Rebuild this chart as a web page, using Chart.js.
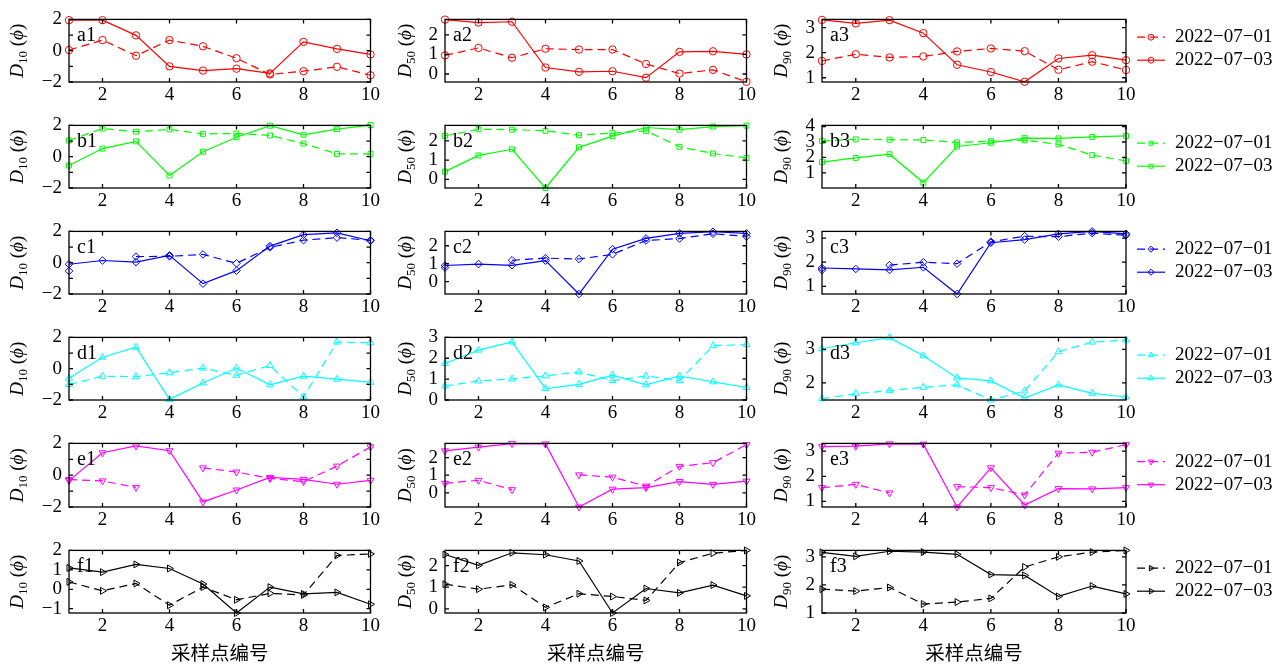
<!DOCTYPE html>
<html>
<head>
<meta charset="utf-8">
<script src="https://cdn.jsdelivr.net/npm/chart.js@4.4.1/dist/chart.umd.min.js"></script>
<style>
  html, body { margin: 0; padding: 0; background: #fff; }
  #wrap { position: relative; width: 1288px; height: 669px; overflow: hidden; }
  #wrap canvas { position: absolute; }
</style>
</head>
<body>
<div id="wrap"></div>
<script>
const sites = [1, 2, 3, 4, 5, 6, 7, 8, 9, 10];
const xTicks = [2, 4, 6, 8, 10];
const dates = ['2022−07−01', '2022−07−03'];
const sizeSubs = ['10', '50', '90'];
const xTitle = '采样点编号';

// D10 / D50 / D90 for each group, 07-01 (dashed) and 07-03 (solid)
const a1_01 = [0.04, 0.68, -0.32, 0.68, 0.28, -0.48, -1.52, -1.31, -1.03, -1.57];
const a1_03 = [1.95, 1.95, 0.98, -1.00, -1.27, -1.15, -1.45, 0.56, 0.12, -0.24];
const a2_01 = [0.95, 1.33, 0.83, 1.29, 1.25, 1.25, 0.51, 0.02, 0.21, -0.40];
const a2_03 = [2.78, 2.63, 2.67, 0.33, 0.11, 0.14, -0.19, 1.13, 1.16, 1.00];
const a3_01 = [1.67, 1.94, 1.81, 1.85, 2.05, 2.17, 2.06, 1.32, 1.64, 1.31];
const a3_03 = [3.31, 3.17, 3.30, 2.78, 1.52, 1.23, 0.84, 1.77, 1.90, 1.70];

const b1_01 = [1.04, 1.80, 1.60, 1.74, 1.46, 1.48, 1.36, 0.84, 0.18, 0.18];
const b1_03 = [-0.56, 0.52, 0.98, -1.20, 0.32, 1.24, 1.98, 1.40, 1.76, 2.02];
const b2_01 = [2.26, 2.60, 2.58, 2.52, 2.29, 2.40, 2.52, 1.69, 1.34, 1.11];
const b2_03 = [0.40, 1.24, 1.56, -0.45, 1.66, 2.24, 2.69, 2.58, 2.74, 2.79];
const b3_01 = [3.07, 3.17, 3.15, 3.13, 2.97, 3.05, 3.11, 2.85, 2.15, 1.78];
const b3_03 = [1.70, 1.97, 2.21, 0.38, 2.71, 2.95, 3.25, 3.23, 3.33, 3.39];

const c1_01 = [-0.53, null, 0.39, 0.41, 0.53, -0.04, 0.98, 1.44, 1.60, 1.44];
const c1_03 = [-0.10, 0.14, 0.04, 0.47, -1.34, -0.51, 1.06, 1.79, 1.91, 1.40];
const c2_01 = [0.78, null, 1.19, 1.31, 1.26, 1.52, 2.29, 2.40, 2.67, 2.52];
const c2_03 = [0.90, 0.98, 0.91, 1.17, -0.69, 1.81, 2.41, 2.69, 2.78, 2.69];
const c3_01 = [1.68, null, 1.88, 2.00, 1.94, 2.85, 3.08, 3.06, 3.21, 3.12];
const c3_03 = [1.76, 1.72, 1.68, 1.79, 0.68, 2.81, 2.94, 3.18, 3.28, 3.18];

const d1_01 = [-1.01, -0.48, -0.51, -0.26, 0.04, -0.42, 0.20, -1.80, 1.70, 1.66];
const d1_03 = [-0.61, 0.73, 1.37, -1.96, -0.91, 0.04, -1.03, -0.48, -0.67, -0.87];
const d2_01 = [0.67, 0.91, 1.01, 1.16, 1.34, 0.93, 1.15, 0.93, 2.60, 2.66];
const d2_03 = [1.75, 2.39, 2.78, 0.55, 0.75, 1.19, 0.73, 1.15, 0.87, 0.60];
const d3_01 = [1.53, 1.68, 1.77, 1.87, 1.94, 1.49, 1.76, 2.93, 3.22, 3.28];
const d3_03 = [3.02, 3.20, 3.35, 2.81, 2.15, 2.06, 1.55, 1.94, 1.69, 1.58];

const e1_01 = [-0.28, -0.36, -0.77, null, 0.46, 0.20, -0.20, -0.40, 0.57, 1.78];
const e1_03 = [-0.34, 1.41, 1.84, 1.54, -1.68, -0.93, -0.14, -0.26, -0.57, -0.32];
const e2_01 = [0.54, 0.71, 0.18, null, 1.02, 0.89, 0.38, 1.50, 1.71, 2.73];
const e2_03 = [2.38, 2.59, 2.79, 2.77, -0.80, 0.21, 0.30, 0.64, 0.48, 0.66];
const e3_01 = [1.55, 1.68, 1.34, null, 1.59, 1.55, 1.26, 2.92, 2.96, 3.26];
const e3_03 = [3.18, 3.20, 3.29, 3.28, 0.78, 2.34, 0.86, 1.51, 1.50, 1.55];

const f1_01 = [0.38, -0.08, 0.30, -0.82, 0.11, -0.54, -0.21, -0.29, 1.74, 1.82];
const f1_03 = [1.10, 0.88, 1.28, 1.07, 0.27, -1.22, 0.11, -0.24, -0.16, -0.77];
const f2_01 = [1.14, 0.91, 1.11, 0.07, 0.70, 0.57, 0.39, 2.14, 2.57, 2.70];
const f2_03 = [2.51, 2.01, 2.59, 2.50, 2.21, -0.19, 0.94, 0.74, 1.10, 0.60];
const f3_01 = [1.85, 1.78, 1.91, 1.32, 1.39, 1.52, 2.64, 3.00, 3.17, 3.23];
const f3_03 = [3.16, 3.02, 3.20, 3.17, 3.09, 2.37, 2.34, 1.59, 1.96, 1.68];

// y tick marks and the ones that carry a label
const ticksPM2 = [-2, -1, 0, 1, 2];
const labelsPM2 = [-2, 0, 2];
const ticks012 = [0, 1, 2];
const ticks0123 = [0, 1, 2, 3];
const ticks123 = [1, 2, 3];
const ticks1234 = [1, 2, 3, 4];
const ticks23 = [2, 3];
const ticksM12 = [-1, 0, 1, 2];

// [tag, 07-01, 07-03, yMin, yMax, tick marks, labelled ticks]
const panels = [
  [['a1', a1_01, a1_03, -2, 2, ticksPM2, labelsPM2],
   ['a2', a2_01, a2_03, -0.41, 2.79, ticks012, ticks012],
   ['a3', a3_01, a3_03, 0.83, 3.33, ticks123, ticks123]],
  [['b1', b1_01, b1_03, -2, 2, ticksPM2, labelsPM2],
   ['b2', b2_01, b2_03, -0.45, 2.80, ticks012, ticks012],
   ['b3', b3_01, b3_03, 0.03, 4.07, ticks1234, ticks1234]],
  [['c1', c1_01, c1_03, -2, 2, ticksPM2, labelsPM2],
   ['c2', c2_01, c2_03, -0.69, 2.80, ticks012, ticks012],
   ['c3', c3_01, c3_03, 0.68, 3.28, ticks123, ticks123]],
  [['d1', d1_01, d1_03, -2, 2, ticksPM2, labelsPM2],
   ['d2', d2_01, d2_03, 0, 3, ticks0123, ticks0123],
   ['d3', d3_01, d3_03, 1.49, 3.36, ticks23, ticks23]],
  [['e1', e1_01, e1_03, -2, 2, ticksPM2, labelsPM2],
   ['e2', e2_01, e2_03, -0.80, 2.80, ticks012, ticks012],
   ['e3', e3_01, e3_03, 0.78, 3.31, ticks123, ticks123]],
  [['f1', f1_01, f1_03, -1.22, 2, ticksM12, ticksM12],
   ['f2', f2_01, f2_03, -0.19, 2.70, ticks012, ticks012],
   ['f3', f3_01, f3_03, 1.0, 3.23, ticks123, ticks123]]
];

const rowStyles = [
  { color: '#ff0000', point: 'circle', rot: 0, r: 3.7 },
  { color: '#00ff00', point: 'rect', rot: 0, r: 3.5 },
  { color: '#0000ff', point: 'rectRot', rot: 0, r: 3.8 },
  { color: '#00ffff', point: 'triangle', rot: 0, r: 4 },
  { color: '#ff00ff', point: 'triangle', rot: 180, r: 4 },
  { color: '#000000', point: 'triangle', rot: 90, r: 4 }
];

const FONT = '"Liberation Serif", "Times New Roman", serif';
const colLeft = [69, 445, 822];
const colRight = [372, 748, 1126];
const rowTop = [15, 121, 227, 333, 439, 546];
const rowBottom = [82, 188, 294, 400, 507, 613];
const titleOffset = [52, 40, 41];

const fmt = v => (v < 0 ? '−' + Math.abs(v) : String(v));

function drawYTitle(ctx, cx, cy, sub) {
  const parts = [
    { t: 'D', f: `italic 19px ${FONT}`, dy: 0 },
    { t: sub, f: `13px ${FONT}`, dy: 4 },
    { t: ' (', f: `19px ${FONT}`, dy: 0 },
    { t: 'ϕ', f: `italic 19px ${FONT}`, dy: 0 },
    { t: ')', f: `19px ${FONT}`, dy: 0 }
  ];
  ctx.save();
  ctx.translate(cx, cy);
  ctx.rotate(-Math.PI / 2);
  ctx.textAlign = 'left';
  ctx.textBaseline = 'alphabetic';
  ctx.fillStyle = '#000';
  let total = 0;
  parts.forEach(p => { ctx.font = p.f; p.w = ctx.measureText(p.t).width; total += p.w; });
  let xx = -total / 2;
  parts.forEach(p => { ctx.font = p.f; ctx.fillText(p.t, xx, 6 + p.dy); xx += p.w; });
  ctx.restore();
}

function makeDecor(p, ri, ci) {
  const st = rowStyles[ri];
  return {
    id: 'decor',
    afterDraw(chart) {
      const { ctx, chartArea: a, scales: { x, y } } = chart;
      ctx.save();
      // box and inward ticks
      ctx.setLineDash([]);
      ctx.strokeStyle = '#000';
      ctx.lineWidth = 1.3;
      ctx.strokeRect(a.left, a.top, a.right - a.left, a.bottom - a.top);
      ctx.beginPath();
      xTicks.forEach(v => {
        const px = x.getPixelForValue(v);
        ctx.moveTo(px, a.bottom); ctx.lineTo(px, a.bottom - 4);
        ctx.moveTo(px, a.top); ctx.lineTo(px, a.top + 4);
      });
      p[5].forEach(v => {
        const py = y.getPixelForValue(v);
        ctx.moveTo(a.left, py); ctx.lineTo(a.left + 4, py);
        ctx.moveTo(a.right, py); ctx.lineTo(a.right - 4, py);
      });
      ctx.stroke();

      // panel tag
      ctx.fillStyle = '#000';
      ctx.font = `20px ${FONT}`;
      ctx.textAlign = 'left';
      ctx.textBaseline = 'alphabetic';
      ctx.fillText(p[0], a.left + 8, a.top + 22);

      drawYTitle(ctx, a.left - titleOffset[ci], (a.top + a.bottom) / 2, sizeSubs[ci]);

      if (ri === panels.length - 1) {
        ctx.font = `19.5px "Noto Sans CJK SC", sans-serif`;
        ctx.textAlign = 'center';
        ctx.textBaseline = 'middle';
        ctx.fillText(xTitle, (a.left + a.right) / 2, a.bottom + 40);
      }

      // legend to the right of the last column
      if (ci === 2) {
        const cy = (a.top + a.bottom) / 2;
        const rowsY = [cy - 13.5, cy + 9.5];
        chart.data.datasets.forEach((ds, k) => {
          const ly = rowsY[k];
          ctx.strokeStyle = st.color;
          ctx.lineWidth = 1.2;
          ctx.setLineDash(ds.borderDash || []);
          ctx.beginPath();
          ctx.moveTo(a.right + 11, ly);
          ctx.lineTo(a.right + 39, ly);
          ctx.stroke();
          ctx.setLineDash([]);
          ctx.lineWidth = 1;
          ctx.fillStyle = 'rgba(0,0,0,0)';
          Chart.helpers.drawPoint(ctx, { pointStyle: st.point, rotation: st.rot, radius: st.r * 0.8, borderWidth: 1 }, a.right + 25, ly);
          ctx.fillStyle = '#000';
          ctx.font = `19px ${FONT}`;
          ctx.textAlign = 'left';
          ctx.textBaseline = 'middle';
          ctx.fillText(ds.label, a.right + 49, ly);
        });
      }
      ctx.restore();
    }
  };
}

const wrap = document.getElementById('wrap');

panels.forEach((row, ri) => row.forEach((p, ci) => {
  const st = rowStyles[ri];
  const L = 66, T = 14;
  const R = ci === 2 ? 1288 - colRight[2] : 10;
  const B = ri === panels.length - 1 ? 56 : 32;
  const W = L + (colRight[ci] - colLeft[ci]) + R;
  const H = T + (rowBottom[ri] - rowTop[ri]) + B;
  const cv = document.createElement('canvas');
  cv.width = W;
  cv.height = H;
  cv.style.left = (colLeft[ci] - L) + 'px';
  cv.style.top = (rowTop[ri] - T) + 'px';
  cv.style.width = W + 'px';
  cv.style.height = H + 'px';
  wrap.appendChild(cv);

  const pts = arr => sites.map((s, i) => ({ x: s, y: arr[i] }));
  const common = {
    borderColor: st.color,
    borderWidth: 1.2,
    pointStyle: st.point,
    pointRotation: st.rot,
    pointRadius: st.r,
    pointBorderWidth: 1,
    pointBorderColor: st.color,
    pointBackgroundColor: 'rgba(0,0,0,0)',
    fill: false,
    tension: 0,
    clip: false
  };

  new Chart(cv, {
    type: 'line',
    data: {
      datasets: [
        { ...common, label: dates[0], data: pts(p[1]), borderDash: [8, 5] },
        { ...common, label: dates[1], data: pts(p[2]) }
      ]
    },
    options: {
      responsive: false,
      animation: false,
      devicePixelRatio: 1,
      layout: { padding: { left: 0, top: T, right: R, bottom: 0 } },
      plugins: { legend: { display: false }, tooltip: { enabled: false } },
      scales: {
        x: {
          type: 'linear',
          min: 1,
          max: 10,
          grid: { display: false, drawTicks: false },
          border: { display: false },
          afterBuildTicks: s => { s.ticks = xTicks.map(v => ({ value: v })); },
          afterFit: s => { s.height = B; },
          ticks: {
            autoSkip: false,
            maxRotation: 0,
            padding: 2,
            color: '#000',
            font: { family: FONT, size: 19 },
            callback: v => fmt(v)
          }
        },
        y: {
          min: p[3],
          max: p[4],
          grid: { display: false, drawTicks: false },
          border: { display: false },
          afterBuildTicks: s => { s.ticks = p[5].map(v => ({ value: v })); },
          afterFit: s => { s.width = L; },
          ticks: {
            autoSkip: false,
            padding: 7,
            color: '#000',
            font: { family: FONT, size: 19 },
            callback: v => (p[6].includes(v) ? fmt(v) : '')
          }
        }
      }
    },
    plugins: [makeDecor(p, ri, ci)]
  });
}));
</script>
</body>
</html>
